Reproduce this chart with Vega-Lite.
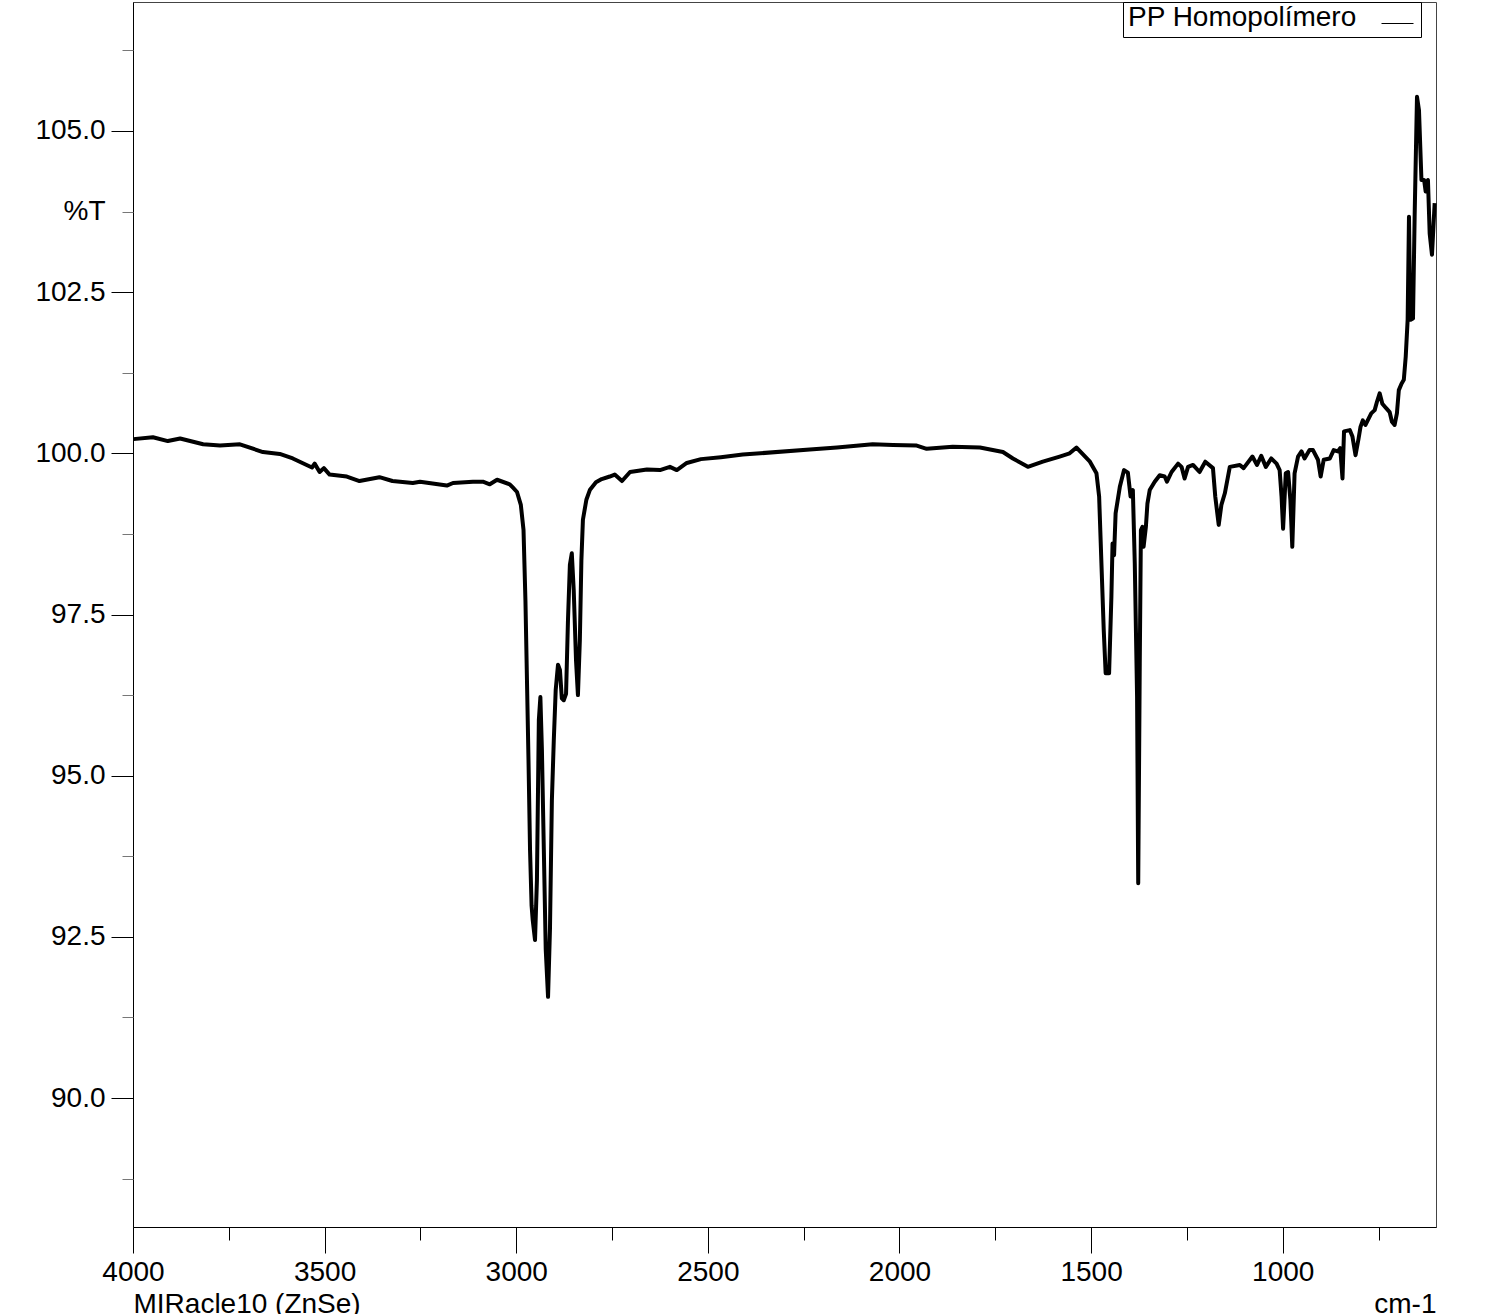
{
  "$schema": "https://vega.github.io/schema/vega-lite/v6.json",
  "width": 1303,
  "height": 1225,
  "autosize": {"type": "none"},
  "padding": {"left": 133, "top": 2, "right": 49, "bottom": 87},
  "background": "white",
  "config": {
    "view": {"stroke": "#444", "strokeWidth": 1},
    "font": "Liberation Sans",
    "axis": {"grid": false, "labelColor": "#000", "titleColor": "#000", "labelFontSize": 28, "titleFontSize": 28, "titleFontWeight": "normal", "labelFont": "Liberation Sans", "titleFont": "Liberation Sans"}
  },
  "data": {
    "values": [
      {"wn": 3999, "T": 100.22}, {"wn": 3948, "T": 100.25}, {"wn": 3909, "T": 100.19}, {"wn": 3877, "T": 100.23},
      {"wn": 3817, "T": 100.14}, {"wn": 3773, "T": 100.12}, {"wn": 3721, "T": 100.14}, {"wn": 3661, "T": 100.02},
      {"wn": 3617, "T": 99.99}, {"wn": 3583, "T": 99.92}, {"wn": 3533, "T": 99.78}, {"wn": 3526, "T": 99.84},
      {"wn": 3513, "T": 99.71}, {"wn": 3502, "T": 99.77}, {"wn": 3487, "T": 99.67}, {"wn": 3442, "T": 99.64},
      {"wn": 3409, "T": 99.57}, {"wn": 3357, "T": 99.63}, {"wn": 3323, "T": 99.57}, {"wn": 3270, "T": 99.54},
      {"wn": 3251, "T": 99.56}, {"wn": 3181, "T": 99.5}, {"wn": 3165, "T": 99.54}, {"wn": 3113, "T": 99.56},
      {"wn": 3087, "T": 99.56}, {"wn": 3069, "T": 99.52}, {"wn": 3050, "T": 99.59}, {"wn": 3017, "T": 99.52},
      {"wn": 3009, "T": 99.47}, {"wn": 2998, "T": 99.4}, {"wn": 2988, "T": 99.2}, {"wn": 2981, "T": 98.81},
      {"wn": 2976, "T": 97.72}, {"wn": 2972, "T": 96.48}, {"wn": 2968, "T": 95.24}, {"wn": 2964, "T": 93.85},
      {"wn": 2960, "T": 92.99}, {"wn": 2957, "T": 92.76}, {"wn": 2951, "T": 92.45}, {"wn": 2946, "T": 93.38},
      {"wn": 2941, "T": 95.86}, {"wn": 2937, "T": 96.22}, {"wn": 2933, "T": 95.4}, {"wn": 2928, "T": 93.85},
      {"wn": 2923, "T": 92.3}, {"wn": 2917, "T": 91.57}, {"wn": 2912, "T": 92.61}, {"wn": 2907, "T": 94.62},
      {"wn": 2902, "T": 95.55}, {"wn": 2897, "T": 96.33}, {"wn": 2891, "T": 96.72}, {"wn": 2886, "T": 96.64},
      {"wn": 2881, "T": 96.2}, {"wn": 2876, "T": 96.17}, {"wn": 2870, "T": 96.27}, {"wn": 2865, "T": 97.41},
      {"wn": 2860, "T": 98.27}, {"wn": 2855, "T": 98.45}, {"wn": 2850, "T": 97.88}, {"wn": 2844, "T": 96.79},
      {"wn": 2839, "T": 96.25}, {"wn": 2834, "T": 97.1}, {"wn": 2830, "T": 98.34}, {"wn": 2826, "T": 98.97},
      {"wn": 2817, "T": 99.28}, {"wn": 2808, "T": 99.43}, {"wn": 2792, "T": 99.55}, {"wn": 2777, "T": 99.6},
      {"wn": 2756, "T": 99.64}, {"wn": 2743, "T": 99.67}, {"wn": 2724, "T": 99.57}, {"wn": 2703, "T": 99.71},
      {"wn": 2659, "T": 99.75}, {"wn": 2625, "T": 99.74}, {"wn": 2599, "T": 99.79}, {"wn": 2581, "T": 99.74},
      {"wn": 2555, "T": 99.85}, {"wn": 2518, "T": 99.91}, {"wn": 2466, "T": 99.94}, {"wn": 2409, "T": 99.98},
      {"wn": 2234, "T": 100.06}, {"wn": 2163, "T": 100.09}, {"wn": 2070, "T": 100.14}, {"wn": 2017, "T": 100.13},
      {"wn": 1955, "T": 100.12}, {"wn": 1929, "T": 100.07}, {"wn": 1861, "T": 100.1}, {"wn": 1790, "T": 100.09},
      {"wn": 1730, "T": 100.02}, {"wn": 1704, "T": 99.92}, {"wn": 1665, "T": 99.79}, {"wn": 1626, "T": 99.87},
      {"wn": 1582, "T": 99.95}, {"wn": 1556, "T": 100.0}, {"wn": 1538, "T": 100.09}, {"wn": 1503, "T": 99.87},
      {"wn": 1486, "T": 99.69}, {"wn": 1479, "T": 99.33}, {"wn": 1473, "T": 98.29}, {"wn": 1467, "T": 97.26},
      {"wn": 1462, "T": 96.59}, {"wn": 1453, "T": 96.59}, {"wn": 1447, "T": 97.78}, {"wn": 1444, "T": 98.6},
      {"wn": 1440, "T": 98.42}, {"wn": 1436, "T": 99.07}, {"wn": 1425, "T": 99.48}, {"wn": 1414, "T": 99.74},
      {"wn": 1404, "T": 99.7}, {"wn": 1397, "T": 99.33}, {"wn": 1391, "T": 99.43}, {"wn": 1386, "T": 98.29},
      {"wn": 1380, "T": 96.22}, {"wn": 1377, "T": 93.33}, {"wn": 1373, "T": 96.74}, {"wn": 1370, "T": 98.81},
      {"wn": 1366, "T": 98.86}, {"wn": 1363, "T": 98.55}, {"wn": 1357, "T": 98.86}, {"wn": 1353, "T": 99.22},
      {"wn": 1347, "T": 99.43}, {"wn": 1334, "T": 99.56}, {"wn": 1321, "T": 99.66}, {"wn": 1308, "T": 99.64},
      {"wn": 1302, "T": 99.56}, {"wn": 1290, "T": 99.71}, {"wn": 1273, "T": 99.84}, {"wn": 1264, "T": 99.79},
      {"wn": 1256, "T": 99.61}, {"wn": 1247, "T": 99.79}, {"wn": 1234, "T": 99.82}, {"wn": 1217, "T": 99.71},
      {"wn": 1202, "T": 99.87}, {"wn": 1182, "T": 99.77}, {"wn": 1176, "T": 99.33}, {"wn": 1167, "T": 98.89},
      {"wn": 1160, "T": 99.2}, {"wn": 1151, "T": 99.38}, {"wn": 1138, "T": 99.79}, {"wn": 1112, "T": 99.82},
      {"wn": 1102, "T": 99.77}, {"wn": 1079, "T": 99.95}, {"wn": 1067, "T": 99.82}, {"wn": 1056, "T": 99.96},
      {"wn": 1044, "T": 99.79}, {"wn": 1030, "T": 99.92}, {"wn": 1016, "T": 99.84}, {"wn": 1008, "T": 99.74},
      {"wn": 1003, "T": 99.33}, {"wn": 999, "T": 98.83}, {"wn": 992, "T": 99.69}, {"wn": 986, "T": 99.71},
      {"wn": 980, "T": 99.28}, {"wn": 975, "T": 98.55}, {"wn": 969, "T": 99.69}, {"wn": 960, "T": 99.95},
      {"wn": 951, "T": 100.03}, {"wn": 943, "T": 99.92}, {"wn": 930, "T": 100.05}, {"wn": 921, "T": 100.05},
      {"wn": 908, "T": 99.9}, {"wn": 901, "T": 99.64}, {"wn": 893, "T": 99.9}, {"wn": 877, "T": 99.92},
      {"wn": 867, "T": 100.05}, {"wn": 856, "T": 100.03}, {"wn": 850, "T": 100.08}, {"wn": 844, "T": 99.61},
      {"wn": 840, "T": 100.34}, {"wn": 825, "T": 100.36}, {"wn": 818, "T": 100.26}, {"wn": 810, "T": 99.97},
      {"wn": 802, "T": 100.23}, {"wn": 797, "T": 100.41}, {"wn": 791, "T": 100.51}, {"wn": 784, "T": 100.44},
      {"wn": 769, "T": 100.62}, {"wn": 760, "T": 100.67}, {"wn": 754, "T": 100.8}, {"wn": 747, "T": 100.93},
      {"wn": 740, "T": 100.77}, {"wn": 730, "T": 100.7}, {"wn": 721, "T": 100.64}, {"wn": 715, "T": 100.49},
      {"wn": 708, "T": 100.44}, {"wn": 702, "T": 100.62}, {"wn": 697, "T": 100.98}, {"wn": 690, "T": 101.08},
      {"wn": 684, "T": 101.14}, {"wn": 679, "T": 101.5}, {"wn": 674, "T": 102.07}, {"wn": 670.5, "T": 103.67},
      {"wn": 667, "T": 102.07}, {"wn": 660, "T": 102.09}, {"wn": 655.6, "T": 103.72}, {"wn": 649.6, "T": 105.53},
      {"wn": 644.4, "T": 105.32}, {"wn": 638, "T": 104.24}, {"wn": 631, "T": 104.24}, {"wn": 627, "T": 104.06},
      {"wn": 621, "T": 104.24}, {"wn": 616.5, "T": 103.41}, {"wn": 610.5, "T": 103.08}, {"wn": 603.5, "T": 103.88}
    ]
  },
  "layer": [
    {
      "mark": {"type": "line", "color": "#000", "strokeWidth": 4, "strokeJoin": "round"},
      "encoding": {
        "x": {
          "field": "wn", "type": "quantitative",
          "scale": {"domain": [600, 4000], "reverse": true, "nice": false, "zero": false},
          "axis": {
            "orient": "bottom",
            "values": [4000, 3500, 3000, 2500, 2000, 1500, 1000],
            "format": "d",
            "tickSize": 26, "tickColor": "#000", "domainColor": "#000", "tickWidth": 1,
            "labelPadding": 5, "labelFlush": false, "labelOverlap": false,
            "title": "MIRacle10 (ZnSe)", "titleAnchor": "end", "titleAlign": "left",
            "titleBaseline": "top", "titleY": 63
          }
        },
        "y": {
          "field": "T", "type": "quantitative",
          "scale": {"domain": [88, 107], "nice": false, "zero": false},
          "axis": {
            "orient": "left",
            "values": [90, 92.5, 95, 97.5, 100, 102.5, 105],
            "format": ".1f",
            "tickSize": 22, "tickColor": "#000", "domainColor": "#000", "tickWidth": 1,
            "labelPadding": 6, "labelFlush": false, "labelOverlap": false,
            "title": null
          }
        },
        "color": {
          "datum": "PP Homopolímero",
          "scale": {"range": ["#000"]},
          "legend": {
            "orient": "none", "legendX": 990, "legendY": 0,
            "title": "PP Homopolímero", "titleOrient": "left", "titleFontSize": 28, "titleFontWeight": "normal",
            "titleColor": "#000", "titleFont": "Liberation Sans", "titleLimit": 600,
            "titlePadding": 24,
            "labelExpr": "''", "labelOffset": 0,
            "symbolType": "stroke", "symbolSize": 1024, "symbolStrokeWidth": 1, "symbolStrokeColor": "#555",
            "strokeColor": "#000", "fillColor": "#fff", "padding": 5,
            "encode": {"symbols": {"update": {"stroke": {"value": "#555"}, "strokeWidth": {"value": 1}}}}
          }
        }
      }
    },
    {
      "mark": {"type": "line", "strokeOpacity": 0, "color": "#000"},
      "encoding": {
        "x": {
          "field": "wn", "type": "quantitative",
          "axis": {
            "orient": "bottom",
            "values": [3750, 3250, 2750, 2250, 1750, 1250, 750],
            "tickSize": 13, "tickColor": "#000", "tickWidth": 1, "domain": false,
            "labels": false,
            "title": "cm-1", "titleAnchor": "start", "titleAlign": "right",
            "titleBaseline": "top", "titleY": 63
          }
        },
        "y": {
          "field": "T", "type": "quantitative",
          "axis": {
            "orient": "left",
            "values": [88.75, 91.25, 93.75, 96.25, 98.75, 101.25, 103.75, 106.25],
            "tickSize": 11, "tickColor": "#777", "tickWidth": 1, "domain": false,
            "labelExpr": "datum.value == 103.75 ? '%T' : ''",
            "labelPadding": 17, "labelOverlap": false, "labelFlush": false,
            "title": null
          }
        }
      }
    }
  ],
  "resolve": {"axis": {"x": "independent", "y": "independent"}}
}
